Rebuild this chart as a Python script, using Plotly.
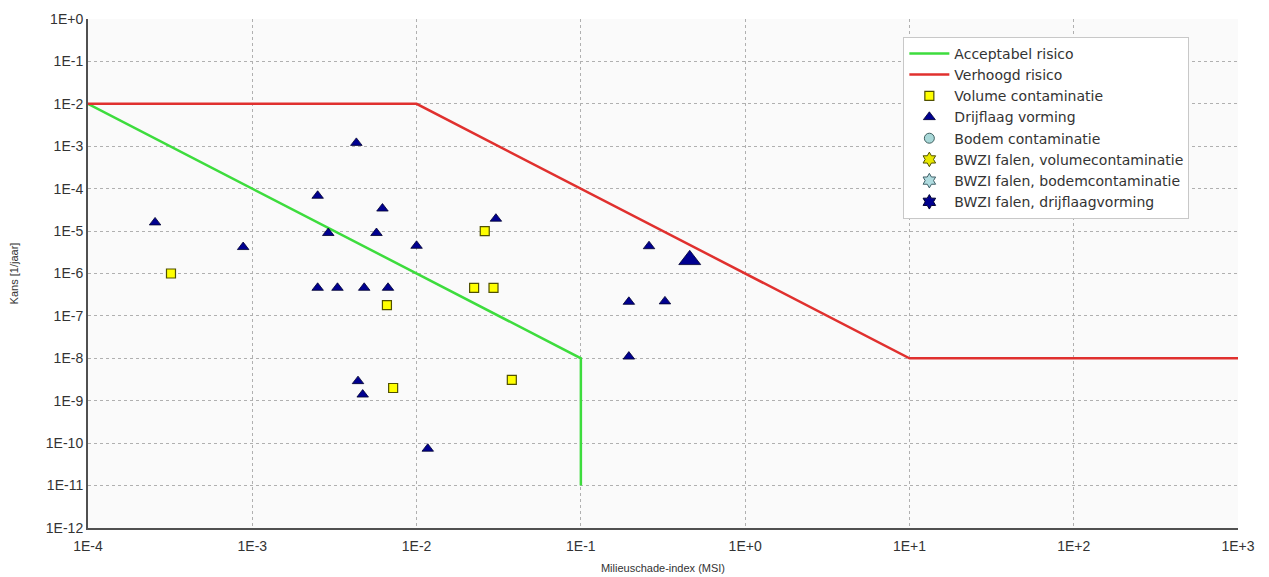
import plotly.graph_objects as go

# ---- data ----
accept_x = [1e-4, 1e-1, 1e-1]
accept_y = [1e-2, 1e-8, 1e-11]

verhoogd_x = [1e-4, 1e-2, 1e1, 1e3]
verhoogd_y = [1e-2, 1e-2, 1e-8, 1e-8]

volume_x = [3.2e-4, 6.6e-3, 7.2e-3, 2.6e-2, 2.24e-2, 2.94e-2, 3.8e-2]
volume_y = [1.0e-6, 1.8e-7, 2.0e-9, 1.0e-5, 4.6e-7, 4.6e-7, 3.1e-9]

drijf_x = [2.56e-4, 8.8e-4, 4.3e-3, 2.5e-3, 6.2e-3, 2.9e-3, 5.7e-3, 1.0e-2,
           2.5e-3, 3.3e-3, 4.8e-3, 6.7e-3, 4.4e-3, 4.7e-3, 1.17e-2, 3.04e-2,
           0.26, 0.196, 0.325, 0.196, 0.46]
drijf_y = [1.6e-5, 4.2e-6, 1.2e-3, 6.8e-5, 3.4e-5, 9.0e-6, 9.0e-6, 4.5e-6,
           4.6e-7, 4.6e-7, 4.6e-7, 4.6e-7, 2.9e-9, 1.4e-9, 7.4e-11, 1.96e-5,
           4.4e-6, 2.15e-7, 2.2e-7, 1.1e-8, 2.1e-6]
drijf_size = [10] * 20 + [19]

# series without observations (legend only)
bodem_x, bodem_y = [None], [None]
bwzi_vol_x, bwzi_vol_y = [None], [None]
bwzi_bod_x, bwzi_bod_y = [None], [None]
bwzi_drijf_x, bwzi_drijf_y = [None], [None]

x_tickvals = [1e-4, 1e-3, 1e-2, 1e-1, 1e0, 1e1, 1e2, 1e3]
x_ticktext = ["1E-4", "1E-3", "1E-2", "1E-1", "1E+0", "1E+1", "1E+2", "1E+3"]
y_tickvals = [10.0 ** (-k) for k in range(0, 13)]
y_ticktext = ["1E+0"] + [f"1E-{k}" for k in range(1, 13)]

# ---- figure ----
fig = go.Figure()
fig.add_trace(go.Scatter(x=accept_x, y=accept_y, mode="lines", name="Acceptabel risico",
                         line=dict(color="#3ddc3d", width=2.5)))
fig.add_trace(go.Scatter(x=verhoogd_x, y=verhoogd_y, mode="lines", name="Verhoogd risico",
                         line=dict(color="#e0302e", width=2.5)))
fig.add_trace(go.Scatter(x=volume_x, y=volume_y, mode="markers", name="Volume contaminatie",
                         marker=dict(symbol="square", size=9, color="#ffff00", opacity=1,
                                     line=dict(color="#505000", width=1.2))))
fig.add_trace(go.Scatter(x=drijf_x, y=drijf_y, mode="markers", name="Drijflaag vorming",
                         marker=dict(symbol="triangle-up", size=drijf_size, color="#000090",
                                     opacity=1, sizemode="diameter",
                                     line=dict(color="#000030", width=0.8))))
fig.add_trace(go.Scatter(x=bodem_x, y=bodem_y, mode="markers", name="Bodem contaminatie",
                         marker=dict(symbol="circle", size=10, color="#a8d8d8", opacity=1,
                                     line=dict(color="#406060", width=1))))
fig.add_trace(go.Scatter(x=bwzi_vol_x, y=bwzi_vol_y, mode="markers",
                         name="BWZI falen, volumecontaminatie",
                         marker=dict(symbol="hexagram", size=11, color="#e8e800", opacity=1,
                                     line=dict(color="#505000", width=1))))
fig.add_trace(go.Scatter(x=bwzi_bod_x, y=bwzi_bod_y, mode="markers",
                         name="BWZI falen, bodemcontaminatie",
                         marker=dict(symbol="hexagram", size=11, color="#b0dce0", opacity=1,
                                     line=dict(color="#406068", width=1))))
fig.add_trace(go.Scatter(x=bwzi_drijf_x, y=bwzi_drijf_y, mode="markers",
                         name="BWZI falen, drijflaagvorming",
                         marker=dict(symbol="hexagram", size=11, color="#000090", opacity=1,
                                     line=dict(color="#000030", width=1))))

axis_common = dict(
    showgrid=True, gridcolor="#b0b0b0", griddash="dot", gridwidth=1,
    showline=True, linecolor="#505050", linewidth=2, mirror=False,
    ticks="", tickfont=dict(family="Liberation Sans, Arial", size=14, color="#333333"),
    zeroline=False, automargin=False,
)

fig.update_xaxes(type="log", range=[-4, 3], tickvals=x_tickvals, ticktext=x_ticktext,
                 ticklabelstandoff=4,
                 title=dict(text="Milieuschade-index (MSI)",
                            font=dict(family="Liberation Sans, Arial", size=11, color="#333333"),
                            standoff=12),
                 **axis_common)
fig.update_yaxes(type="log", range=[-12, 0], tickvals=y_tickvals, ticktext=y_ticktext,
                 title=dict(text="Kans [1/jaar]",
                            font=dict(family="Liberation Sans, Arial", size=11, color="#333333"),
                            standoff=26),
                 **axis_common)

fig.update_layout(
    width=1269, height=577,
    margin=dict(l=80, r=39, t=11, b=57),
    paper_bgcolor="white",
    plot_bgcolor="#fafafa",
    font=dict(family="Liberation Sans, Arial", size=13, color="#333333"),
    legend=dict(x=0.709, y=0.965, xanchor="left", yanchor="top",
                bgcolor="white", bordercolor="#c8c8c8", borderwidth=1,
                font=dict(family="DejaVu Sans", size=14, color="#333333"),
                itemwidth=40, tracegroupgap=0),
    showlegend=True,
)

fig.write_html("out.html")
